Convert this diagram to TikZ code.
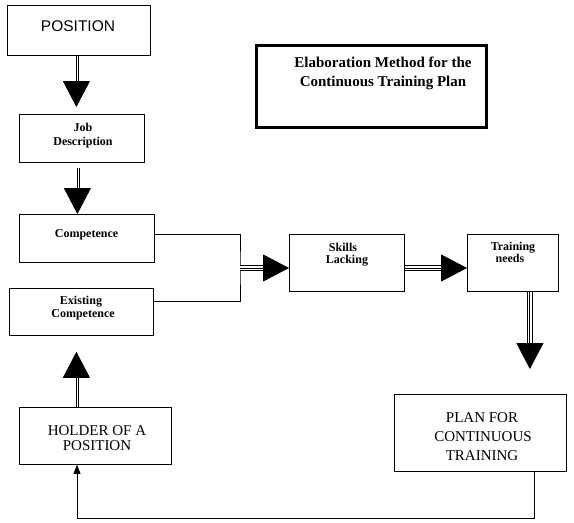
\documentclass[tikz,border=0pt]{standalone}
\usepackage{fontspec}
\setmainfont{Liberation Serif}
\newfontfamily\arialfont{Liberation Sans}
\usetikzlibrary{arrows.meta,calc}
\tikzset{
  box/.style={draw, line width=0.8pt, anchor=north west, inner sep=0pt},
  sm/.style={font=\fontsize{12}{12}\selectfont\bfseries, anchor=base, inner sep=0pt},
  big/.style={font=\fontsize{15}{15}\selectfont, anchor=base, inner sep=0pt},
  ttl/.style={font=\fontsize{15}{15}\selectfont\bfseries, anchor=base, inner sep=0pt},
  tri/.style={line width=0.9pt, -{Triangle[width=27pt,length=26pt]},
    preaction={draw, -, double, double distance=4pt, line width=0.9pt, shorten >=20pt}},
  thin/.style={line width=0.8pt}
}
\begin{document}
\begin{tikzpicture}[x=1pt,y=-1pt]
\useasboundingbox (0,0) rectangle (574,523);
% boxes
\node[box, minimum width=143pt, minimum height=50pt] (pos) at (7,5) {};
\node[box, line width=3pt, minimum width=230pt, minimum height=82pt] (title) at (255,44) {};
\node[box, minimum width=125pt, minimum height=48pt] (job) at (19,114) {};
\node[box, minimum width=135pt, minimum height=48pt] (comp) at (19,214) {};
\node[box, minimum width=144pt, minimum height=47pt] (exist) at (9,288) {};
\node[box, minimum width=115pt, minimum height=57pt] (skills) at (289,234) {};
\node[box, minimum width=91pt, minimum height=57pt] (train) at (467,234) {};
\node[box, minimum width=172pt, minimum height=77pt] (plan) at (394,394) {};
\node[box, minimum width=152pt, minimum height=57pt] (holder) at (19,407) {};
% texts
\node[anchor=base, inner sep=0pt, font=\arialfont\fontsize{15.5}{15.5}\selectfont] (tpos) at (78,31) {POSITION};
\node[ttl] (tt1) at (383,67) {Elaboration Method for the};
\node[ttl] (tt2) at (383,86) {Continuous Training Plan};
\node[sm] (tj1) at (83,131) {Job};
\node[sm] (tj2) at (83,145) {Description};
\node[sm] (tc) at (86.5,237) {Competence};
\node[sm] (te1) at (81,304.5) {Existing};
\node[sm] (te2) at (83,317) {Competence};
\node[sm] (ts1) at (343,251) {Skills};
\node[sm] (ts2) at (347,263) {Lacking};
\node[sm] (ttr1) at (513,250.7) {Training};
\node[sm] (ttr2) at (510,262.3) {needs};
\node[big] (tp1) at (482,422.7) {PLAN FOR};
\node[big] (tp2) at (483,441.7) {CONTINUOUS};
\node[big] (tp3) at (482,460) {TRAINING};
\node[big] (th1) at (97,435) {HOLDER OF A};
\node[big] (th2) at (97,450) {POSITION};
% connectors
\coordinate (jx) at (240,268);
\draw[tri] ([xshift=-2.5pt]pos.south) -- ([xshift=-5.5pt,yshift=7pt]job.north);
\draw[tri] ([xshift=-4.5pt,yshift=-5pt]job.south) -- ([xshift=-9.5pt]comp.north);
\draw[thin] ([yshift=4pt]comp.east) -| (jx) |- ([yshift=11pt]exist.east);
\draw[tri] (jx) -- (skills.west |- jx);
\draw[tri] (skills.east |- jx) -- (train.west |- jx);
\draw[tri] ([xshift=17pt]train.south) -- ([xshift=17pt,yshift=25pt]train.south |- plan.north);
\draw[tri] ([xshift=-19pt]holder.north) -- ([xshift=-5pt,yshift=-16pt]exist.south);
\coordinate (fb) at (77,518);
\draw[thin, -{Triangle[width=7pt,length=9pt]}] ([xshift=54pt]plan.south) |- (fb) -- (holder.south -| fb);
\end{tikzpicture}
\end{document}
